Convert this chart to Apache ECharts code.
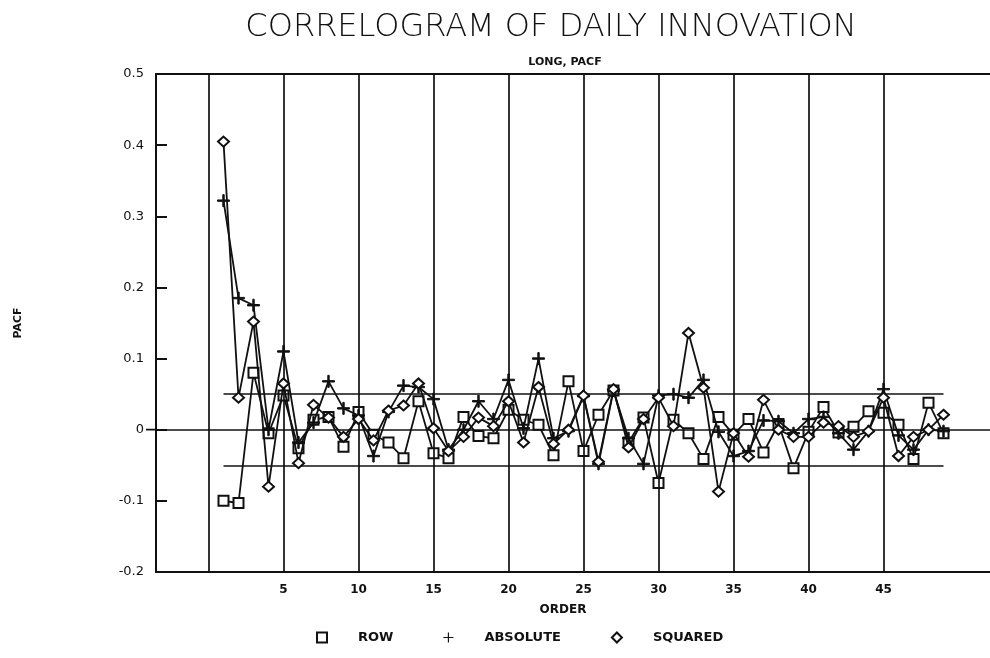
<!DOCTYPE html>
<html>
<head>
<meta charset="utf-8">
<script src="https://cdn.jsdelivr.net/npm/echarts@6/dist/echarts.min.js"></script>
<style>
  html, body { margin: 0; padding: 0; background: #fff; }
  #chart { width: 990px; height: 658px; }
</style>
</head>
<body>
<div id="chart"></div>
<script>
// Partial autocorrelations of the daily innovation series, lags 1..49
const orders = Array.from({ length: 49 }, (_, i) => i + 1);

const rowPacf = [
  -0.100, -0.103, 0.080, -0.005, 0.048, -0.026, 0.014, 0.018, -0.024, 0.025,
  -0.007, -0.018, -0.040, 0.040, -0.033, -0.040, 0.018, -0.009, -0.012, 0.028,
  0.014, 0.007, -0.036, 0.068, -0.030, 0.021, 0.055, -0.018, 0.017, -0.075,
  0.014, -0.005, -0.041, 0.018, -0.007, 0.015, -0.032, 0.008, -0.054, -0.003,
  0.032, -0.004, 0.004, 0.026, 0.024, 0.007, -0.041, 0.038, -0.005
];

const absolutePacf = [
  0.322, 0.185, 0.175, 0.000, 0.110, -0.018, 0.010, 0.068, 0.030, 0.020,
  -0.037, 0.025, 0.062, 0.060, 0.043, -0.028, 0.000, 0.040, 0.015, 0.070,
  0.002, 0.100, -0.012, -0.002, 0.047, -0.048, 0.055, -0.012, -0.048, 0.048,
  0.050, 0.045, 0.070, -0.003, -0.037, -0.030, 0.013, 0.012, -0.005, 0.015,
  0.018, -0.005, -0.028, -0.002, 0.057, -0.008, -0.028, 0.000, -0.002
];

const squaredPacf = [
  0.405, 0.045, 0.152, -0.080, 0.065, -0.047, 0.035, 0.017, -0.010, 0.015,
  -0.015, 0.027, 0.034, 0.065, 0.002, -0.030, -0.010, 0.017, 0.005, 0.040,
  -0.018, 0.060, -0.020, 0.000, 0.048, -0.045, 0.057, -0.025, 0.015, 0.045,
  0.005, 0.136, 0.059, -0.087, -0.005, -0.038, 0.042, 0.000, -0.010, -0.010,
  0.010, 0.005, -0.010, -0.002, 0.045, -0.037, -0.010, 0.000, 0.021
];

// Axis ticks and reference levels
const xTickLabels = [5, 10, 15, 20, 25, 30, 35, 40, 45];
const xGridOrders = [0, 5, 10, 15, 20, 25, 30, 35, 40, 45];
const yTickValues = [-0.2, -0.1, 0, 0.1, 0.2, 0.3, 0.4, 0.5];
const yTickLabels = ['-0.2', '-0.1', '0', '0.1', '0.2', '0.3', '0.4', '0.5'];
const bandLevel = 0.05;        // approximate significance bound
const bandRange = [1, 49];     // lags covered by the bound lines

const FONT = 'DejaVu Sans';
const INK = '#111';
const X_MIN = -3.5, X_MAX = 52.1, Y_MIN = -0.2, Y_MAX = 0.5;

const plusPath = 'path://M-0.7,-6H0.7V6H-0.7ZM-6,-0.7H6V0.7H-6Z';

function pairs(values) {
  return orders.map((o, i) => [o, values[i]]);
}

const refLineStyle = { color: INK, width: 1.7, type: 'solid' };

const option = {
  backgroundColor: '#fff',
  animation: false,
  title: [
    {
      text: 'CORRELOGRAM OF DAILY INNOVATION',
      left: 546, top: 7, textAlign: 'center',
      textStyle: { fontFamily: FONT, fontSize: 32, fontWeight: 200, color: INK }
    },
    {
      text: 'LONG, PACF',
      left: 560, top: 52, textAlign: 'center',
      textStyle: { fontFamily: FONT, fontSize: 11, fontWeight: 'bold', color: INK }
    },
    {
      text: 'ORDER',
      left: 558, top: 599, textAlign: 'center',
      textStyle: { fontFamily: FONT, fontSize: 12, fontWeight: 'bold', color: INK }
    }
  ],
  legend: {
    data: [
      { name: 'ROW', icon: 'emptyRect' },
      { name: 'ABSOLUTE', icon: plusPath },
      { name: 'SQUARED', icon: 'emptyDiamond' }
    ],
    left: 311, top: 626,
    itemWidth: 10, itemHeight: 10, itemGap: 50,
    textStyle: {
      fontFamily: FONT, fontSize: 13, fontWeight: 'bold', color: INK,
      padding: [0, 0, 0, 26]
    }
  },
  grid: [
    { left: 156, right: 0, top: 74, bottom: 86 },
    { left: 146, width: 10, top: 74, bottom: 86 }
  ],
  xAxis: [
    {
      type: 'value', gridIndex: 0, min: X_MIN, max: X_MAX, position: 'bottom',
      axisLine: { show: true, onZero: false, lineStyle: { color: INK, width: 2 } },
      axisTick: { show: false },
      splitLine: { show: false },
      axisLabel: {
        customValues: xTickLabels, margin: 12,
        fontFamily: FONT, fontSize: 12, fontWeight: 'bold', color: INK
      }
    },
    {
      type: 'value', gridIndex: 0, min: X_MIN, max: X_MAX, position: 'top',
      axisLine: { show: true, onZero: false, lineStyle: { color: INK, width: 2 } },
      axisTick: { show: false }, axisLabel: { show: false }, splitLine: { show: false }
    },
    {
      type: 'value', gridIndex: 1, min: 0, max: 1, show: false
    }
  ],
  yAxis: [
    {
      type: 'value', gridIndex: 0, min: Y_MIN, max: Y_MAX, interval: 0.1,
      name: 'PACF', nameLocation: 'middle', nameRotate: 90, nameGap: 132,
      nameTextStyle: { fontFamily: FONT, fontSize: 11, fontWeight: 'bold', color: INK },
      axisLine: { show: true, onZero: false, lineStyle: { color: INK, width: 2 } },
      axisTick: { show: true, inside: true, length: 11, lineStyle: { color: INK, width: 2 } },
      splitLine: { show: false },
      axisLabel: {
        margin: 12, fontFamily: FONT, fontSize: 13, color: INK,
        formatter: v => {
          const idx = yTickValues.findIndex(t => Math.abs(t - v) < 1e-9);
          return idx >= 0 ? yTickLabels[idx] : '';
        }
      }
    },
    {
      type: 'value', gridIndex: 1, min: Y_MIN, max: Y_MAX, show: false
    }
  ],
  series: [
    {
      name: 'ROW', type: 'line', xAxisIndex: 0, yAxisIndex: 0,
      data: pairs(rowPacf),
      symbol: 'emptyRect', symbolSize: 10,
      lineStyle: { color: INK, width: 1.8 },
      itemStyle: { color: INK, borderColor: INK, borderWidth: 1.6 },
      z: 4,
      markLine: {
        silent: true, symbol: ['none', 'none'], label: { show: false },
        lineStyle: refLineStyle,
        data: [
          ...xGridOrders.map(v => ({ xAxis: v })),
          { yAxis: 0 },
          [{ coord: [bandRange[0], bandLevel] }, { coord: [bandRange[1], bandLevel] }],
          [{ coord: [bandRange[0], -bandLevel] }, { coord: [bandRange[1], -bandLevel] }]
        ]
      }
    },
    {
      name: 'ABSOLUTE', type: 'line', xAxisIndex: 0, yAxisIndex: 0,
      data: pairs(absolutePacf),
      symbol: plusPath, symbolSize: 12,
      lineStyle: { color: INK, width: 1.8 },
      itemStyle: { color: INK, borderColor: INK },
      z: 5
    },
    {
      name: 'SQUARED', type: 'line', xAxisIndex: 0, yAxisIndex: 0,
      data: pairs(squaredPacf),
      symbol: 'emptyDiamond', symbolSize: [11, 10],
      lineStyle: { color: INK, width: 1.8 },
      itemStyle: { color: INK, borderColor: INK, borderWidth: 1.6 },
      z: 6
    },
    {
      // zero line continues a little past the left axis
      type: 'line', xAxisIndex: 2, yAxisIndex: 1,
      data: [[0, 0], [1, 0]],
      symbol: 'none', silent: true,
      lineStyle: { color: INK, width: 1.7 }
    }
  ]
};

const chart = echarts.init(document.getElementById('chart'), null, { renderer: 'canvas' });
chart.setOption(option);
</script>
</body>
</html>
